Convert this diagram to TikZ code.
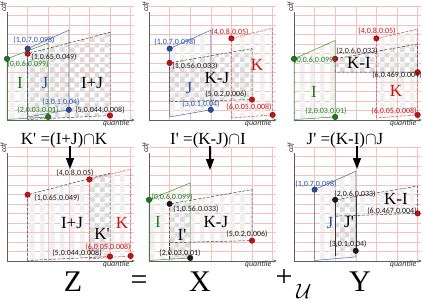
\documentclass[tikz,border=0pt]{standalone}
\usepackage{fontspec}
\setmainfont{Liberation Serif}
\newfontfamily\lblfont{Carlito}
\usetikzlibrary{arrows.meta,patterns}
\pgfdeclarepatternformonly{bigchk}{\pgfpointorigin}{\pgfqpoint{10pt}{10pt}}{\pgfqpoint{10pt}{10pt}}{%
  \pgfpathrectangle{\pgfpointorigin}{\pgfqpoint{5pt}{5pt}}%
  \pgfpathrectangle{\pgfqpoint{5pt}{5pt}}{\pgfqpoint{5pt}{5pt}}%
  \pgfusepath{fill}}
\pgfdeclarepatternformonly{vstripe}{\pgfpointorigin}{\pgfqpoint{10pt}{10pt}}{\pgfqpoint{10pt}{10pt}}{%
  \pgfpathrectangle{\pgfpointorigin}{\pgfqpoint{5pt}{10pt}}%
  \pgfusepath{fill}}
\definecolor{cgreen}{RGB}{25,125,25}
\definecolor{cblue}{RGB}{35,80,165}
\definecolor{cred}{RGB}{205,15,15}
\definecolor{cblack}{RGB}{25,25,25}
\definecolor{cpink}{RGB}{245,192,192}
\definecolor{caxis}{RGB}{95,95,95}
\newcommand\pr{\textquotesingle}
\tikzset{
  gridline/.style={cpink, line width=0.4pt},
  axisline/.style={caxis, line width=0.6pt},
  gedge/.style={cgreen!85, line width=0.5pt},
  bedge/.style={cblue!85, line width=0.5pt},
  redge/.style={cred!75, line width=0.5pt, dash pattern=on 3pt off 1.2pt},
  kedge/.style={black!75, line width=0.5pt, dash pattern=on 3pt off 1.5pt},
  lightfill/.style={pattern=vstripe, pattern color=gray!12},
  chkfill/.style={pattern=bigchk, pattern color=gray!28},
  ptdot/.style={circle, inner sep=0pt, minimum size=5.5pt, draw=#1!55!black, fill=#1, line width=0.4pt},
  coordlbl/.style={font=\lblfont\fontsize{8}{8}\selectfont, inner sep=0pt, text=black!90},
  axlbl/.style={font=\lblfont\itshape\fontsize{8}{8}\selectfont, inner sep=0pt, text=black!80},
  regionlbl/.style={font=\fontsize{17}{17}\selectfont, inner sep=0pt},
  eqnlbl/.style={font=\fontsize{17}{17}\selectfont, inner sep=0pt},
  hugelbl/.style={font=\fontsize{30}{30}\selectfont, inner sep=0pt},
  conn/.style={-{Triangle[width=8pt,length=11pt]}, line width=1.4pt},
}
\newcommand\plotframe[1]{%
  \foreach \q in {1,...,6} \draw[gridline] (\q,0) -- (\q,1.12);
  \foreach \k in {1,...,12} \draw[gridline] (0,\k*0.093) -- (6.15,\k*0.093);
  \draw[axisline] (0,0) -- (0,1.06);
  \draw[axisline,-{Stealth[length=3.5pt,width=3pt]}] (0,0) -- (6.2,0);
  \node[axlbl, rotate=90] (#1cdf) at (-0.15,1.11) {cdf};
  \node[axlbl] (#1qu) at (5.3,-0.035) {quantile};
}
\begin{document}
\begin{tikzpicture}[x=1pt,y=-1pt]
\useasboundingbox (0,0) rectangle (423,301);
% ---------- panel 1: I, J, I+J
\begin{scope}[shift={(7,120)}, x=20.6pt, y=102pt]
  \plotframe{pa}
  \fill[lightfill] (0,0) -- (0,0.6) -- (2,0.755) -- (2,0.03) -- cycle;
  \fill[lightfill] (1,0.03) -- (1,0.7) -- (3,0.88) -- (3,0.1) -- cycle;
  \fill[chkfill] (1,0.005) -- (1,0.65) -- (5,0.86) -- (5,0.044) -- cycle;
  \draw[gedge] (0,0.005) -- (0,0.6) -- (2,0.755) -- (2,0.03) -- cycle;
  \draw[bedge] (1,0.03) -- (1,0.7) -- (3,0.88) -- (3,0.1) -- cycle;
  \draw[kedge] (1,0.005) -- (1,0.65) -- (5,0.86) -- (5,0.044) -- cycle;
  \node[ptdot=cgreen] (pa1) at (0,0.6) {};
  \node[ptdot=cgreen] (pa2) at (2,0.03) {};
  \node[ptdot=cblue] (pa3) at (1,0.7) {};
  \node[ptdot=cblue] (pa4) at (3,0.1) {};
  \node[ptdot=cred] (pa5) at (1,0.65) {};
  \node[ptdot=cred] (pa6) at (5,0.044) {};
\end{scope}
% ---------- panel 2: J, K, K-J
\begin{scope}[shift={(149,120)}, x=20.6pt, y=102pt]
  \plotframe{pb}
  \fill[lightfill] (1,0.03) -- (1,0.7) -- (3,0.88) -- (3,0.1) -- cycle;
  \fill[lightfill] (4,0.02) -- (4,0.8) -- (6,0.9) -- (6,0.05) -- cycle;
  \fill[chkfill] (1,0.18) -- (1,0.56) -- (5,0.7) -- (5,0.2) -- cycle;
  \draw[bedge] (1,0.03) -- (1,0.7) -- (3,0.88) -- (3,0.1) -- cycle;
  \draw[redge] (4,0.02) -- (4,0.8) -- (6,0.9) -- (6,0.05) -- cycle;
  \draw[kedge] (1,0.18) -- (1,0.56) -- (5,0.7) -- (5,0.2) -- cycle;
  \node[ptdot=cblue] (pb1) at (1,0.7) {};
  \node[ptdot=cblue] (pb2) at (3,0.1) {};
  \node[ptdot=cred] (pb3) at (4,0.8) {};
  \node[ptdot=cred] (pb4) at (6,0.05) {};
  \node[ptdot=cred] (pb5) at (1,0.56) {};
  \node[ptdot=cred] (pb6) at (5,0.2) {};
\end{scope}
% ---------- panel 3: I, K, K-I
\begin{scope}[shift={(294,120)}, x=20.6pt, y=102pt]
  \plotframe{pc}
  \fill[lightfill] (0,0) -- (0,0.6) -- (2,0.78) -- (2,0.03) -- cycle;
  \fill[lightfill] (4,0.02) -- (4,0.8) -- (6,0.89) -- (6,0.05) -- cycle;
  \fill[chkfill] (2,0.47) -- (2,0.6) -- (6,0.745) -- (6,0.469) -- cycle;
  \draw[gedge] (0,0.005) -- (0,0.6) -- (2,0.78) -- (2,0.03) -- cycle;
  \draw[redge] (4,0.02) -- (4,0.8) -- (6,0.89) -- (6,0.05) -- cycle;
  \draw[kedge] (2,0.47) -- (2,0.6) -- (6,0.745) -- (6,0.469) -- cycle;
  \node[ptdot=cgreen] (pc1) at (0,0.6) {};
  \node[ptdot=cgreen] (pc2) at (2,0.03) {};
  \node[ptdot=cred] (pc3) at (4,0.8) {};
  \node[ptdot=cred] (pc4) at (6,0.05) {};
  \node[ptdot=cred] (pc5) at (2,0.6) {};
  \node[ptdot=cred] (pc6) at (6,0.469) {};
\end{scope}
% ---------- panel 4: K'
\begin{scope}[shift={(7,261)}, x=20.6pt, y=102pt]
  \plotframe{pd}
  \fill[lightfill] (1,0.005) -- (1,0.65) -- (5,0.86) -- (5,0.044) -- cycle;
  \fill[lightfill] (4,0.02) -- (4,0.8) -- (6,0.9) -- (6,0.05) -- cycle;
  \fill[chkfill] (4,0.02) -- (4,0.8) -- (5,0.853) -- (5,0.044) -- cycle;
  \draw[kedge] (1,0.005) -- (1,0.65) -- (5,0.86) -- (5,0.044) -- cycle;
  \draw[redge] (4,0.02) -- (4,0.8) -- (6,0.9) -- (6,0.05) -- cycle;
  \node[ptdot=cred] (pd1) at (1,0.65) {};
  \node[ptdot=cred] (pd2) at (4,0.8) {};
  \node[ptdot=cred] (pd3) at (5,0.044) {};
  \node[ptdot=cred] (pd4) at (6,0.05) {};
\end{scope}
% ---------- panel 5: I'
\begin{scope}[shift={(149,261)}, x=20.6pt, y=102pt]
  \plotframe{pe}
  \fill[lightfill] (0,0) -- (0,0.6) -- (2,0.765) -- (2,0.03) -- cycle;
  \fill[lightfill] (1,0.18) -- (1,0.56) -- (5,0.7) -- (5,0.2) -- cycle;
  \fill[chkfill] (1,0.015) -- (1,0.56) -- (2,0.595) -- (2,0.03) -- cycle;
  \draw[gedge] (0,0.005) -- (0,0.6) -- (2,0.765) -- (2,0.03) -- cycle;
  \draw[kedge] (1,0.18) -- (1,0.56) -- (5,0.7) -- (5,0.2) -- cycle;
  \draw[kedge] (1,0.015) -- (1,0.18);
  \node[ptdot=cgreen] (pe1) at (0,0.6) {};
  \node[ptdot=cblack] (pe2) at (1,0.56) {};
  \node[ptdot=cred] (pe3) at (5,0.2) {};
  \node[ptdot=cblack] (pe4) at (2,0.03) {};
\end{scope}
% ---------- panel 6: J'
\begin{scope}[shift={(294,261)}, x=20.6pt, y=102pt]
  \plotframe{pf}
  \fill[lightfill] (1,0) -- (1,0.7) -- (3,0.88) -- (3,0.04) -- cycle;
  \fill[lightfill] (2,0.44) -- (2,0.6) -- (6,0.735) -- (6,0.467) -- cycle;
  \fill[chkfill] (2,0.05) -- (2,0.6) -- (3,0.634) -- (3,0.1) -- cycle;
  \draw[bedge] (1,0.005) -- (1,0.7) -- (3,0.88) -- (3,0.04) -- cycle;
  \draw[kedge] (2,0.44) -- (2,0.6) -- (6,0.735) -- (6,0.467) -- cycle;
  \draw[black!80, line width=0.5pt] (2,0.05) -- (2,0.6) (3,0.634) -- (3,0.1);
  \node[ptdot=cblue] (pf1) at (1,0.7) {};
  \node[ptdot=cblack] (pf2) at (2,0.6) {};
  \node[ptdot=cred] (pf3) at (6,0.467) {};
  \node[ptdot=cblack] (pf4) at (3,0.1) {};
\end{scope}
% ---------- coordinate labels
\node[coordlbl, text=cblue] (la1) at (34,40) {(1,0.7,0.098)};
\node[coordlbl] (la2) at (54,57.5) {(1,0.65,0.049)};
\node[coordlbl, text=cgreen] (la3) at (28,64.5) {(0,0.6,0.099)};
\node[coordlbl, text=cblue] (la4) at (61,102.5) {(3,0.1,0.04)};
\node[coordlbl, text=cgreen] (la5) at (38,110.5) {(2,0.03,0.01)};
\node[coordlbl] (la6) at (100,110) {(5,0.044,0.008)};
\node[coordlbl, text=cblue] (lb1) at (175,42) {(1,0.7,0.098)};
\node[coordlbl, text=cred] (lb2) at (230,32) {(4,0.8,0.05)};
\node[coordlbl] (lb3) at (195,66) {(1,0.56,0.033)};
\node[coordlbl] (lb4) at (226,94.5) {(5,0.2,0.006)};
\node[coordlbl, text=cblue] (lb5) at (201,104.5) {(3,0.1,0.04)};
\node[coordlbl, text=cred] (lb6) at (249,107.5) {(6,0.05,0.008)};
\node[coordlbl, text=cgreen] (lc1) at (315,60) {(0,0.6,0.099)};
\node[coordlbl] (lc2) at (357,51) {(2,0.6,0.033)};
\node[coordlbl, text=cred] (lc3) at (377,31) {(4,0.8,0.05)};
\node[coordlbl] (lc4) at (397,75.5) {(6,0.469,0.004)};
\node[coordlbl, text=cgreen] (lc5) at (326,111) {(2,0.03,0.01)};
\node[coordlbl, text=cred] (lc6) at (394,111) {(6,0.05,0.008)};
\node[coordlbl] (ld1) at (75,173) {(4,0.8,0.05)};
\node[coordlbl] (ld2) at (57,198.5) {(1,0.65,0.049)};
\node[coordlbl, text=cred] (ld3) at (108,247) {(6,0.05,0.008)};
\node[coordlbl] (ld4) at (77,253.5) {(5,0.044,0.008)};
\node[coordlbl, text=cgreen] (le1) at (172,197.5) {(0,0.6,0.099)};
\node[coordlbl] (le2) at (196,209.5) {(1,0.56,0.033)};
\node[coordlbl] (le3) at (247,234.5) {(5,0.2,0.006)};
\node[coordlbl] (le4) at (180,253.5) {(2,0.03,0.01)};
\node[coordlbl, text=cblue] (lf1) at (316,184.5) {(1,0.7,0.098)};
\node[coordlbl] (lf2) at (355,194) {(2,0.6,0.033)};
\node[coordlbl] (lf3) at (392,211) {(6,0.467,0.004)};
\node[coordlbl] (lf4) at (348,244.5) {(3,0.1,0.04)};
% ---------- region labels
\node[regionlbl, text=cgreen] (ra1) at (20,83) {I};
\node[regionlbl, text=cblue] (ra2) at (45,83) {J};
\node[regionlbl] (ra3) at (92,83) {I+J};
\node[regionlbl, text=cblue] (rb1) at (189,88) {J};
\node[regionlbl] (rb2) at (217,78) {K-J};
\node[regionlbl, text=cred] (rb3) at (257,65) {K};
\node[regionlbl] (rc1) at (359,63) {K-I};
\node[regionlbl, text=cgreen] (rc2) at (314,92) {I};
\node[regionlbl, text=cred] (rc3) at (396,91) {K};
\node[regionlbl] (rd1) at (72,223) {I+J};
\node[regionlbl, text=cred] (rd2) at (122,223) {K};
\node[regionlbl] (rd3) at (102,234) {K\pr};
\node[regionlbl, text=cgreen] (re1) at (158,222) {I};
\node[regionlbl] (re2) at (182,235) {I\pr};
\node[regionlbl] (re3) at (216,222) {K-J};
\node[regionlbl, text=cblue] (rf1) at (330,223) {J};
\node[regionlbl] (rf2) at (349,222) {J\pr};
\node[regionlbl] (rf3) at (396,199) {K-I};
% ---------- equations and arrows
\node[eqnlbl] (eqA) at (64,140) {K\pr\ =(I+J)$\cap$K};
\node[eqnlbl] (eqB) at (208,140) {I\pr\ =(K-J)$\cap$I};
\node[eqnlbl] (eqC) at (345,140) {J\pr\ =(K-I)$\cap$J};
\coordinate (arA0) at (70,146); \coordinate (arA1) at (70,169);
\coordinate (arB0) at (210,146); \coordinate (arB1) at (210,170);
\coordinate (arC0) at (357,146); \coordinate (arC1) at (357,169);
\draw[conn] (arA0) -- (arA1);
\draw[conn] (arB0) -- (arB1);
\draw[conn] (arC0) -- (arC1);
% ---------- bottom equation
\node[hugelbl] (zz) at (73,282) {Z};
\node[hugelbl] (eqs) at (139,282.5) {=};
\node[hugelbl] (xx) at (200,282) {X};
\node[hugelbl] (pl) at (284,278) {+};
\node[font=\fontsize{22}{22}\selectfont, inner sep=0pt] (uu) at (304,291) {$\mathcal{U}$};
\node[hugelbl] (yy) at (360,282) {Y};
\end{tikzpicture}
\end{document}
